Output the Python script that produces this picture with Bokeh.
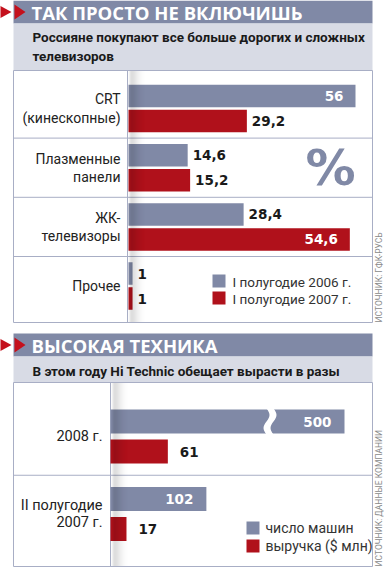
import math
from bokeh.plotting import figure
from bokeh.models import Range1d
from bokeh.embed import file_html
from bokeh.resources import INLINE
from bokeh.core.properties import value

# ---------------- data: chart 1 (TV sales structure, %) ----------------
tv_types = ["CRT\n(кинескопные)", "Плазменные\nпанели", "ЖК-\nтелевизоры", "Прочее"]
share_h1_2006 = [56, 14.6, 28.4, 1]
share_h1_2007 = [29.2, 15.2, 54.6, 1]
tv_series = ["I полугодие 2006 г.", "I полугодие 2007 г."]

# ---------------- data: chart 2 (Hi Technic) ----------------
ht_periods = ["2008 г.", "II полугодие\n2007 г."]
ht_cars = [500, 102]
ht_revenue = [61, 17]
ht_series = ["число машин", "выручка ($ млн)"]

title1 = "ТАК ПРОСТО НЕ ВКЛЮЧИШЬ"
subtitle1 = "Россияне покупают все больше дорогих и сложных\nтелевизоров"
source1 = "ИСТОЧНИК: ГФК-РУСЬ"
title2 = "ВЫСОКАЯ ТЕХНИКА"
subtitle2 = "В этом году Hi Technic обещает вырасти в разы"
source2 = "ИСТОЧНИК: ДАННЫЕ КОМПАНИИ"

# ---------------- styles ----------------
BLUE = "#8089a6"
RED = "#b0111b"
TRI = "#c4101c"
SUB_BG = "#d8dbe5"
BORDER = "#a8aec5"
TXT = "#222222"
FONT = value("Roboto")
NUM_FONT = value("DejaVu Sans")
TITLE_FONT = value("Open Sans")

W, H = 384, 567
p = figure(width=W, height=H, x_range=Range1d(0, W), y_range=Range1d(H, 0),
           output_backend="svg", toolbar_location=None, min_border=0,
           x_axis_location=None, y_axis_location=None)
p.grid.visible = False
p.outline_line_color = None
p.background_fill_color = "white"
p.border_fill_color = "white"

def fmt(v):
    return f"{v:g}".replace(".", ",")

def header(bar_top, bar_bot, sub_bot, title, subtitle, sub_y):
    yc = (bar_top + bar_bot) / 2
    p.quad(left=13, right=372, top=bar_top, bottom=bar_bot, fill_color=BLUE, line_color=None)
    p.quad(left=13, right=372, top=bar_bot, bottom=sub_bot, fill_color=SUB_BG, line_color=None)
    p.patches(xs=[[-3, 11, -3], [14, 25, 14]],
              ys=[[yc - 7.5, yc, yc + 7.5], [yc - 7.5, yc, yc + 7.5]],
              fill_color=TRI, line_color=None)
    p.text(x=31, y=yc + 0.5, text=[title], text_font=TITLE_FONT, text_font_style="bold",
           text_font_size="18.5px", text_color="white", text_baseline="middle")
    p.text(x=32, y=sub_y, text=[subtitle], text_font=FONT, text_font_style="bold",
           text_font_size="13.5px", text_color="#1a1a1a", text_baseline="middle",
           text_line_height=1.2)

def shadow(x0, top, bot):
    prof = [0.03, 0.09, 0.13, 0.14, 0.13, 0.12, 0.105, 0.09, 0.075, 0.06,
            0.048, 0.036, 0.026, 0.018, 0.011, 0.006, 0.003]
    p.quad(left=[x0 + i for i in range(len(prof))], right=[x0 + i + 1 for i in range(len(prof))],
           top=top, bottom=bot, fill_color="black", fill_alpha=prof, line_color=None)

def source(text, y):
    p.text(x=378.5, y=y, text=[text], angle=math.pi / 2, text_font=FONT,
           text_font_size="8.5px", text_color="#8a8a8a", text_baseline="middle", text_align="left")

# =============== chart 1 ===============
header(0, 23, 70, title1, subtitle1, 46)
p.quad(left=13, right=372, top=70, bottom=322, fill_color="white", line_color=BORDER)

K1, X1 = 227 / 56, 128          # px per % and zero position
R1_C, R1_STEP = 108, 59.2       # first row centre, row pitch (px)
p.extra_x_ranges["tv"] = Range1d(start=-X1 / K1, end=(W - X1) / K1)
p.extra_y_ranges["tv_rows"] = Range1d(start=(H - R1_C) / R1_STEP, end=-R1_C / R1_STEP)

idx = list(range(len(tv_types)))
off1, h1 = 12.5 / R1_STEP, 22.5 / R1_STEP
p.segment(x0=13, x1=372, y0=[i + 0.5 for i in idx[:-1]], y1=[i + 0.5 for i in idx[:-1]],
          line_color=BORDER, y_range_name="tv_rows")
p.segment(x0=127, x1=127, y0=70, y1=322, line_color=BORDER)

for vals, col, d in ((share_h1_2006, BLUE, -off1), (share_h1_2007, RED, off1)):
    ys = [i + d for i in idx]
    p.hbar(y=ys, left=0, right=vals, height=h1, fill_color=col, line_color=None,
           x_range_name="tv", y_range_name="tv_rows")
    out = [(v, y) for v, y in zip(vals, ys) if v < 40]
    ins = [(v, y) for v, y in zip(vals, ys) if v >= 40]
    if out:
        p.text(x=[v for v, _ in out], y=[y for _, y in out], text=[fmt(v) for v, _ in out],
               x_offset=5, text_font=NUM_FONT, text_font_style="bold", text_font_size="13.5px",
               text_color="#1a1a1a", text_baseline="middle", text_align="left",
               x_range_name="tv", y_range_name="tv_rows")
    if ins:
        p.text(x=[v for v, _ in ins], y=[y for _, y in ins], text=[fmt(v) for v, _ in ins],
               x_offset=-12, text_font=NUM_FONT, text_font_style="bold", text_font_size="13.5px",
               text_color="white", text_baseline="middle", text_align="right",
               x_range_name="tv", y_range_name="tv_rows")

shadow(128, 70.5, 321.5)

p.text(x=120, y=idx, text=tv_types, text_font=FONT, text_font_size="14px", text_color=TXT,
       text_baseline="middle", text_align="right", text_line_height=1.15, y_range_name="tv_rows")

p.text(x=330, y=167, text=["%"], text_font=NUM_FONT, text_font_style="bold",
       text_font_size="50px", text_color=BLUE, text_baseline="middle", text_align="center")

p.quad(left=212, right=225, top=[274, 291], bottom=[287, 304], fill_color=[BLUE, RED], line_color=None)
p.text(x=232, y=[281, 298], text=tv_series, text_font=FONT, text_font_size="13.5px",
       text_color="#333333", text_baseline="middle")
source(source1, 322)

# =============== chart 2 ===============
header(333, 356, 382, title2, subtitle2, 370)
p.quad(left=13, right=372, top=382, bottom=566, fill_color="white", line_color=BORDER)

K2, X2 = 0.94, 110
R2_C, R2_STEP = 436, 77.5
BREAK_CAP = (344 - X2) / K2       # longest drawable bar (axis break beyond)
p.extra_x_ranges["ht"] = Range1d(start=-X2 / K2, end=(W - X2) / K2)
p.extra_y_ranges["ht_rows"] = Range1d(start=(H - R2_C) / R2_STEP, end=-R2_C / R2_STEP)

idx2 = list(range(len(ht_periods)))
off2, h2 = 15 / R2_STEP, 24 / R2_STEP
p.segment(x0=13, x1=372, y0=[i + 0.5 for i in idx2[:-1]], y1=[i + 0.5 for i in idx2[:-1]],
          line_color=BORDER, y_range_name="ht_rows")
p.segment(x0=110, x1=110, y0=382, y1=566, line_color=BORDER)

for vals, col, d in ((ht_cars, BLUE, -off2), (ht_revenue, RED, off2)):
    ys = [i + d for i in idx2]
    shown = [min(v, BREAK_CAP) for v in vals]
    p.hbar(y=ys, left=0, right=shown, height=h2, fill_color=col, line_color=None,
           x_range_name="ht", y_range_name="ht_rows")
    out = [(v, s, y) for v, s, y in zip(vals, shown, ys) if v < 90]
    ins = [(v, s, y) for v, s, y in zip(vals, shown, ys) if v >= 90]
    if out:
        p.text(x=[s for _, s, _ in out], y=[y for *_, y in out], text=[fmt(v) for v, _, _ in out],
               x_offset=12, text_font=NUM_FONT, text_font_style="bold", text_font_size="13.5px",
               text_color="#1a1a1a", text_baseline="middle", text_align="left",
               x_range_name="ht", y_range_name="ht_rows")
    if ins:
        p.text(x=[s for _, s, _ in ins], y=[y for *_, y in ins], text=[fmt(v) for v, _, _ in ins],
               x_offset=-13, text_font=NUM_FONT, text_font_style="bold", text_font_size="13.5px",
               text_color="white", text_baseline="middle", text_align="right",
               x_range_name="ht", y_range_name="ht_rows")

# axis-break mark on the long bar
bt, bb = R2_C - off2 * R2_STEP - 13, R2_C - off2 * R2_STEP + 13
n = 14
ts = [k / n for k in range(n + 1)]
xl = [266 + 3 * math.sin(2 * math.pi * t) for t in ts]
yl = [bt + (bb - bt) * t for t in ts]
p.patch(x=xl + [x + 7 for x in reversed(xl)], y=yl + list(reversed(yl)),
        fill_color="white", line_color=None)

shadow(111, 382.5, 565.5)

p.text(x=102, y=idx2, text=ht_periods, text_font=FONT, text_font_size="14.5px", text_color=TXT,
       text_baseline="middle", text_align="right", text_line_height=1.05, y_range_name="ht_rows")

p.quad(left=246, right=259, top=[521, 539], bottom=[534, 552], fill_color=[BLUE, RED], line_color=None)
p.text(x=265, y=[527.5, 545.5], text=ht_series, text_font=FONT, text_font_size="14px",
       text_color="#333333", text_baseline="middle")
source(source2, 566)

open("out.html", "w").write(file_html(p, INLINE))
